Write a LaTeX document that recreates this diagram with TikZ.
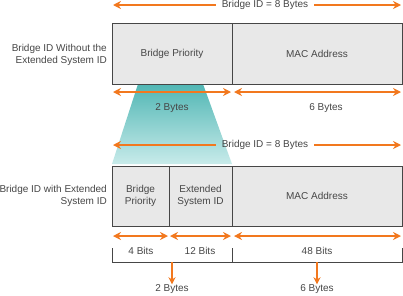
\documentclass[tikz,border=0pt]{standalone}
\usepackage{fontspec}
\setmainfont{Liberation Sans}
\usetikzlibrary{arrows.meta}
\definecolor{oarr}{RGB}{242,120,30}
\definecolor{boxfill}{RGB}{232,232,232}
\definecolor{boxline}{RGB}{70,70,70}
\definecolor{txt}{RGB}{70,70,70}
\definecolor{tealtop}{RGB}{80,182,180}
\definecolor{tealbot}{RGB}{200,235,234}
\tikzset{
  cell/.style={draw=boxline, line width=0.9pt, fill=boxfill, rectangle, inner sep=0pt, text=txt, font=\fontsize{10}{12}\selectfont, align=center},
  lbl/.style={text=txt, font=\fontsize{10}{12}\selectfont, inner sep=1pt, align=center},
  oarrow/.style={draw=oarr, line width=2pt, -{Stealth[length=8pt,width=8pt]}},
  darrow/.style={draw=oarr, line width=2pt, {Stealth[length=8pt,width=8pt]}-{Stealth[length=8pt,width=8pt]}},
  dnarrow/.style={draw=oarr, line width=2pt, -{Stealth[length=7pt,width=7pt]}},
  brk/.style={draw=boxline, line width=0.9pt}
}
\begin{document}
\begin{tikzpicture}[x=1pt,y=-1pt]
\useasboundingbox (0,0) rectangle (403,295);
% teal trapezoid
\shade[top color=tealtop, bottom color=tealbot] (138,84) -- (203,84) -- (232,164) -- (112,164) -- cycle;
% top box
\node[cell, minimum width=120pt, minimum height=61pt] (bp1) at (172,53.5) {Bridge Priority};
\node[cell, minimum width=170pt, minimum height=61pt] (mac1) at (317,53.5) {MAC Address};
\node[lbl, anchor=east, align=right] (lab1) at (108,54.5) {Bridge ID Without the\\Extended System ID};
% top bridge id arrow
\node[lbl, inner xsep=6pt] (bid1) at (265,5) {Bridge ID = 8 Bytes};
\coordinate (l1) at (113,5);
\coordinate (r1) at (401,5);
\draw[oarrow] (bid1.west) -- (l1);
\draw[oarrow] (bid1.east) -- (r1);
% row 2 arrows
\coordinate (a1) at (113,92); \coordinate (a2) at (231,92);
\coordinate (a3) at (234,92); \coordinate (a4) at (401,92);
\draw[darrow] (a1) -- (a2);
\draw[darrow] (a3) -- (a4);
\node[lbl] (by2) at (172,108) {2 Bytes};
\node[lbl] (by6) at (326,108) {6 Bytes};
% second bridge id arrow
\node[lbl, inner xsep=6pt] (bid2) at (265,145) {Bridge ID = 8 Bytes};
\coordinate (l2) at (113,145);
\coordinate (r2) at (401,145);
\draw[oarrow] (bid2.west) -- (l2);
\draw[oarrow] (bid2.east) -- (r2);
% lower box
\node[cell, minimum width=57pt, minimum height=60pt] (bp2) at (140.5,196) {Bridge\\Priority};
\node[cell, minimum width=63pt, minimum height=60pt] (ext) at (200.5,196) {Extended\\System ID};
\node[cell, minimum width=170pt, minimum height=60pt] (mac2) at (317,196) {MAC Address};
\node[lbl, anchor=east, align=right] (lab2) at (108,196) {Bridge ID with Extended\\System ID};
% lower arrows
\coordinate (b1) at (113,236); \coordinate (b2) at (168,236);
\coordinate (b3) at (170,236); \coordinate (b4) at (231,236);
\coordinate (b5) at (234,236); \coordinate (b6) at (401,236);
\draw[darrow] (b1) -- (b2);
\draw[darrow] (b3) -- (b4);
\draw[darrow] (b5) -- (b6);
\node[lbl] (bits4) at (141,251) {4 Bits};
\node[lbl] (bits12) at (200,251) {12 Bits};
\node[lbl] (bits48) at (317,251) {48 Bits};
% bracket
\coordinate (k1) at (112,248); \coordinate (k2) at (112,262);
\coordinate (k3) at (402,262); \coordinate (k4) at (402,248);
\coordinate (k5) at (232,248); \coordinate (k6) at (232,262);
\draw[brk] (k1) -- (k2) -- (k3) -- (k4);
\draw[brk] (k5) -- (k6);
% down arrows
\node[lbl] (fb2) at (172,289) {2 Bytes};
\node[lbl] (fb6) at (317,289) {6 Bytes};
\coordinate (d1) at (172,262); \coordinate (d2) at (317,262);
\draw[dnarrow] (d1) -- ([yshift=-1pt]fb2.north);
\draw[dnarrow] (d2) -- ([yshift=-1pt]fb6.north);
\end{tikzpicture}
\end{document}
